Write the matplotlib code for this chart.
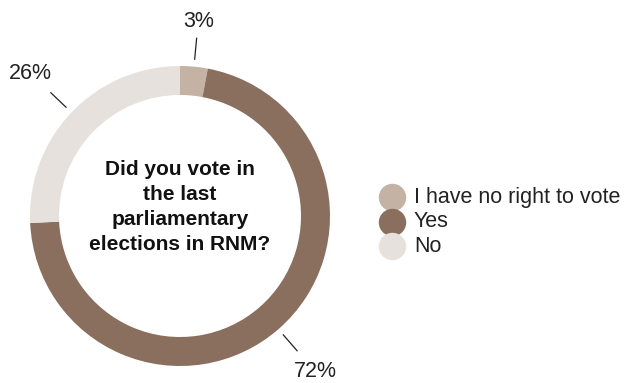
import numpy as np
import matplotlib.pyplot as plt

plt.rcParams['font.family'] = ['Liberation Sans', 'DejaVu Sans']

labels = ['I have no right to vote', 'Yes', 'No']
values = [3, 72, 26]
colors = ['#c4b2a5', '#8b6f5e', '#e6e1dc']
question = 'Did you vote in\nthe last\nparliamentary\nelections in RNM?'

W, H = 626, 383
cx, cy, R = 180, H - 216, 150

fig = plt.figure(figsize=(W / 100, H / 100), dpi=100)
ax = fig.add_axes([0, 0, 1, 1])

wedges, _ = ax.pie(values, colors=colors, startangle=90, counterclock=False,
                   center=(cx, cy), radius=R,
                   wedgeprops=dict(width=29, linewidth=0))
ax.set_xlim(0, W)
ax.set_ylim(0, H)
ax.set_aspect('equal')
ax.axis('off')

# percent labels with short radial leader lines
for w, v in zip(wedges, values):
    ang = np.deg2rad((w.theta1 + w.theta2) / 2)
    dx, dy = np.cos(ang), np.sin(ang)
    ax.plot([cx + dx * R * 1.05, cx + dx * R * 1.19],
            [cy + dy * R * 1.05, cy + dy * R * 1.19],
            color='#222222', lw=0.9)
    txt = f'{v}%'
    # push the label out so its box edge sits just past the leader line
    r = R * 1.24 + 7 * len(txt) * abs(dx) + 8 * abs(dy)
    ax.text(cx + dx * r, cy + dy * r, txt,
            ha='center', va='center', fontsize=15.5, color='#222222')

ax.text(cx, cy + 9, question, ha='center', va='center', fontsize=15,
        fontweight='bold', color='#111111', linespacing=1.42)

# legend
for i, (lab, col) in enumerate(zip(labels, colors)):
    y = H - 197 - i * 24.5
    ax.scatter([392], [y], s=390, color=col, linewidths=0)
    ax.text(414, y, lab, ha='left', va='center', fontsize=15.5, color='#222222')

fig.savefig('out.png', dpi=100)
